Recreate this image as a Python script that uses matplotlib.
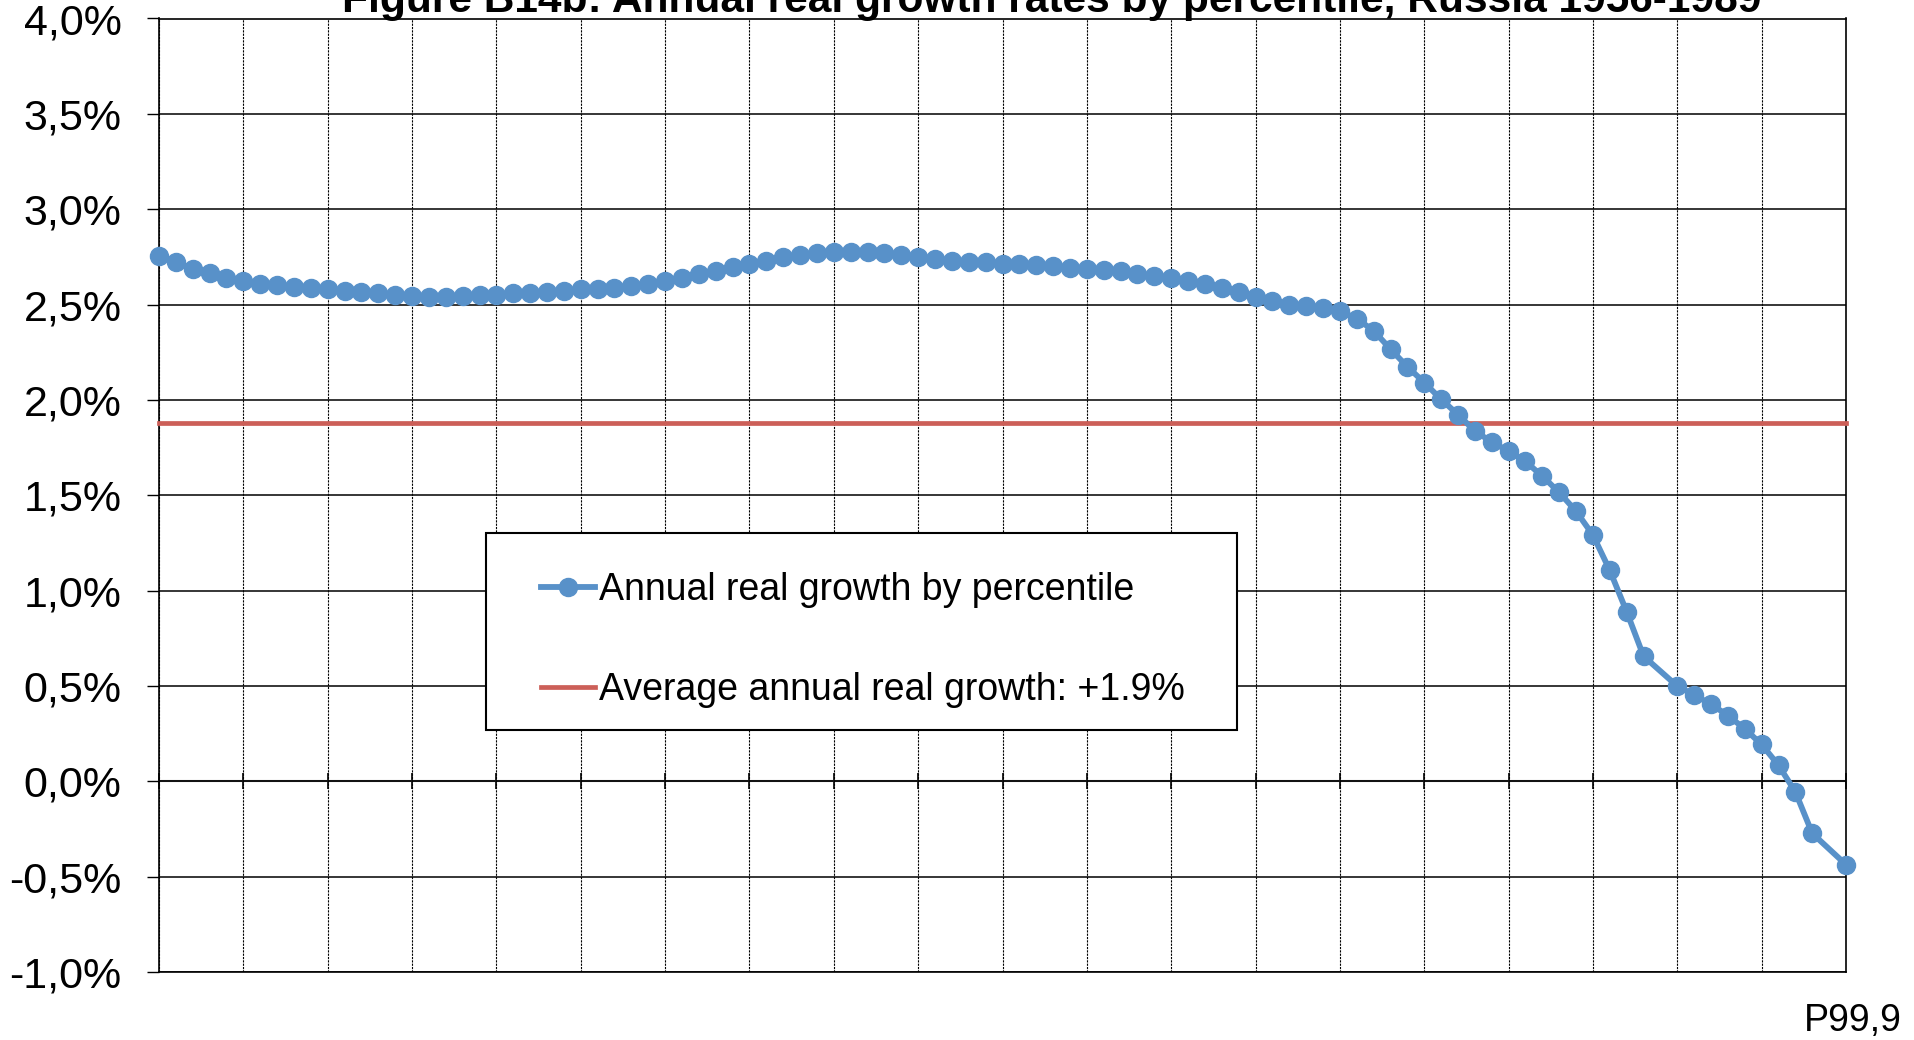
#%% imports
import numpy as np
from matplotlib import pyplot as plt
from matplotlib.patches import Rectangle
from matplotlib.transforms import ScaledTranslation

plt.rcParams['font.family'] = ['Liberation Sans', 'DejaVu Sans']

#%% data (percent, one value per percentile slot, NaN = no point)
percentile_slots = np.arange(101)
growth_by_percentile = [
    2.756, 2.723, 2.687, 2.663, 2.640, 2.623, 2.609, 2.600, 2.593, 2.589,
    2.579, 2.572, 2.566, 2.558, 2.551, 2.544, 2.542, 2.542, 2.544, 2.549,
    2.549, 2.558, 2.563, 2.568, 2.572, 2.579, 2.582, 2.589, 2.598, 2.609,
    2.623, 2.638, 2.659, 2.677, 2.696, 2.714, 2.728, 2.747, 2.761, 2.768,
    2.773, 2.777, 2.775, 2.772, 2.761, 2.751, 2.740, 2.730, 2.724, 2.721,
    2.714, 2.711, 2.705, 2.703, 2.691, 2.687, 2.682, 2.674, 2.659, 2.651,
    2.638, 2.624, 2.609, 2.589, 2.566, 2.542, 2.519, 2.500, 2.493, 2.484,
    2.466, 2.426, 2.363, 2.266, 2.174, 2.091, 2.003, 1.923, 1.837, 1.779,
    1.732, 1.677, 1.600, 1.515, 1.416, 1.291, 1.106, 0.889, 0.656, np.nan,
    0.499, 0.453, 0.404, 0.345, 0.275, 0.193, 0.084, -0.056, -0.273, np.nan,
    -0.437,
]
average_growth = 1.88

y_ticks = [-1.0, -0.5, 0.0, 0.5, 1.0, 1.5, 2.0, 2.5, 3.0, 3.5, 4.0]
y_tick_labels = ['-1,0%', '-0,5%', '0,0%', '0,5%', '1,0%', '1,5%', '2,0%',
                 '2,5%', '3,0%', '3,5%', '4,0%']
x_label_pos = [100]
x_labels = ['P99,9']

title = 'Figure B14b: Annual real growth rates by percentile, Russia 1956-1989'
label_growth = 'Annual real growth by percentile'
label_avg = 'Average annual real growth: +1.9%'

BLUE = '#5891C9'
RED = '#CC5F58'

#%% plot
fig = plt.figure(figsize=(19.14, 10.40), dpi=100)
ax = fig.add_axes([159/1914, 1 - 972/1040, (1846-159)/1914, (972-18.5)/1040])

y = np.array(growth_by_percentile)
ok = ~np.isnan(y)
ax.plot(percentile_slots[ok], y[ok], color=BLUE, lw=4.2, marker='o', ms=13,
        label=label_growth, zorder=4, clip_on=False)
ax.plot(percentile_slots, np.full(len(percentile_slots), average_growth), color=RED,
        lw=3.4, label=label_avg, zorder=3, clip_on=False)

ax.set_xlim(0, 100)
ax.set_ylim(-1.0, 4.0)
ax.set_yticks(y_ticks)
ax.set_yticklabels(y_tick_labels, fontsize=31)
ax.set_xticks(x_label_pos)
ax.set_xticklabels(x_labels, fontsize=27)
ax.set_xticks(np.arange(0, 101, 5), minor=True)
ax.tick_params(axis='y', direction='out', length=9, width=1, pad=18)
ax.tick_params(axis='x', which='both', length=0, pad=22)
# nudge the P99,9 label a little to the right like the original
for lab in ax.get_xticklabels():
    lab.set_transform(lab.get_transform() + ScaledTranslation(0.07, 0, fig.dpi_scale_trans))

ax.grid(axis='y', color='black', lw=1.1, ls='-')
ax.grid(axis='x', which='minor', color='black', lw=0.8, ls=(0, (2, 1)))
ax.set_axisbelow(True)
for s in ax.spines.values():
    s.set_color('black')
    s.set_linewidth(1.2)

# horizontal axis sits at 0% with crossing tick marks
sec = ax.secondary_xaxis(0.2)
sec.set_xticks(np.arange(0, 101, 5))
sec.set_xticklabels([])
sec.tick_params(direction='inout', length=11, width=1.2, color='black')
sec.spines['bottom'].set_color('#555555')
sec.spines['bottom'].set_linewidth(1.5)

# legend box drawn as its own frame (inside the axes so it stacks under the legend)
box = Rectangle((486/1914, 1 - 730/1040), (1237-486)/1914, (730-533)/1040,
                transform=fig.transFigure, facecolor='white', edgecolor='black',
                lw=1.5, zorder=5, clip_on=False)
ax.add_patch(box)
leg = ax.legend(loc='center left', bbox_to_anchor=(541/1914, 1 - 640/1040),
                bbox_transform=fig.transFigure, fontsize=27, frameon=False,
                handlelength=1.45, handletextpad=0.1, borderpad=0,
                labelspacing=1.72, borderaxespad=0)
leg.set_zorder(6)

fig.text(1052/1914, 1 - 12/1040, title, ha='center', va='baseline',
         fontsize=30.6, fontweight='bold')

fig.savefig('out.png', dpi=100)
